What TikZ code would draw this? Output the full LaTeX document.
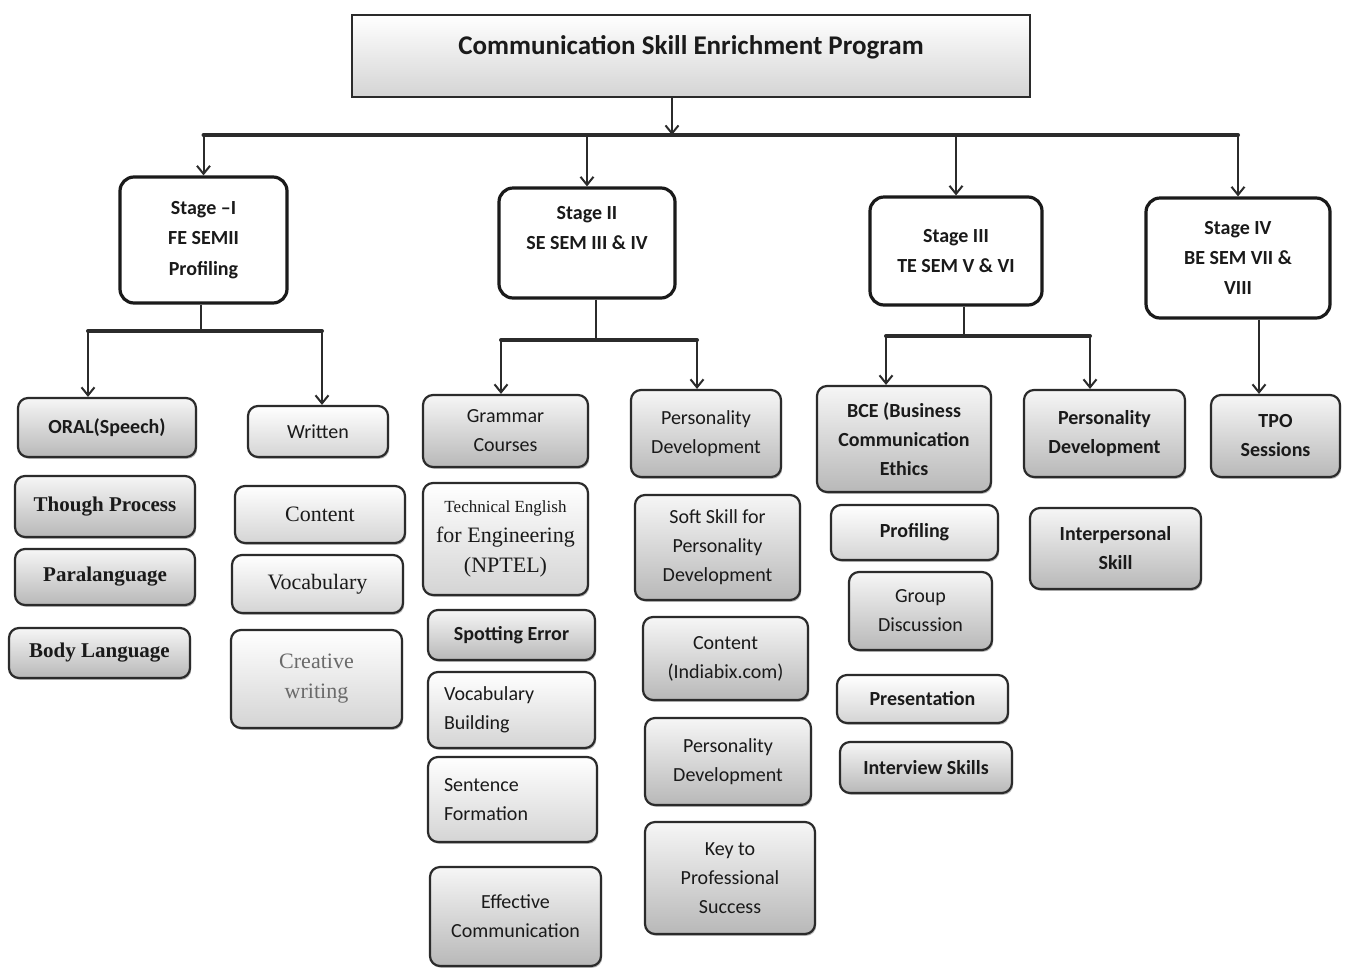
\documentclass[tikz,border=0pt]{standalone}
\usepackage{fontspec}
\setmainfont{Carlito}
\newfontfamily\tnr{Liberation Serif}
\usepackage{tikz}
\usetikzlibrary{calc,arrows.meta,shadows}
\definecolor{ink}{HTML}{1A1A1A}
\definecolor{edge}{HTML}{2B2B2B}
\definecolor{shadetop}{HTML}{F6F6F6}
\definecolor{shadebot}{HTML}{B8B8B8}
\definecolor{lightbot}{HTML}{D4D4D4}
\definecolor{faded}{HTML}{6A6A6A}
\tikzset{
  title/.style={draw=edge, line width=1.2pt, top color=white, bottom color=lightbot, text=ink,
    font=\fontsize{13.5}{16}\selectfont\bfseries, text height=10pt, text depth=12pt},
  stagebox/.style={draw=ink, line width=1.6pt, fill=white, rounded corners=7pt, text=ink,
    align=center, font=\fontsize{10}{15.2}\selectfont\bfseries},
  leaf/.style={draw=edge, line width=1.1pt, rounded corners=5pt, top color=shadetop, bottom color=shadebot,
    text=ink, align=center, inner sep=4pt, font=\fontsize{10}{14.5}\selectfont,
    drop shadow={shadow xshift=0.6pt, shadow yshift=-0.9pt, fill=black!55}},
  leafw/.style={leaf, top color=white, bottom color=lightbot},
  leftleaf/.style={leafw, align=left, inner xsep=8pt},
  bold/.style={font=\fontsize{10}{14.5}\selectfont\bfseries},
  serif/.style={font=\fontsize{11}{15}\selectfont\tnr},
  serifb/.style={font=\fontsize{10.5}{15}\selectfont\tnr\bfseries},
  sz/.style 2 args={minimum width=#1, minimum height=#2},
  arr/.style={draw=edge, line width=1pt, -{Straight Barb[length=4pt,width=6.5pt]}},
  busline/.style={draw=edge, line width=2pt, line cap=round},
  link/.style={draw=edge, line width=1pt},
}

\begin{document}
\begin{tikzpicture}[x=0.5pt, y=-0.5pt]
  \useasboundingbox (0,0) rectangle (1348,970);
  \node[title, sz={339pt}{41pt}] (prog) at (691,56) {Communication Skill Enrichment Program};

  \node[stagebox, sz={83.5pt}{63pt}] (s1) at (203.5,240) {Stage --I\\FE SEMII\\Profiling};
  \node[stagebox, sz={88pt}{55pt}] (s2) at (587,243) {Stage II\\SE SEM III \& IV\\\mbox{}};
  \node[stagebox, sz={86pt}{54pt}] (s3) at (956,251) {Stage III\\TE SEM V \& VI};
  \node[stagebox, sz={92pt}{60pt}] (s4) at (1238,258) {Stage IV\\BE SEM VII \&\\VIII};

  % stage I
  \node[leaf, bold, sz={89pt}{29.5pt}] (oral) at (107,427.5) {ORAL(Speech)};
  \node[leaf, serifb, sz={90pt}{30.5pt}] (though) at (105,506.5) {Though Process};
  \node[leaf, serifb, sz={90pt}{28pt}] (para) at (105,577) {Paralanguage};
  \node[leaf, serifb, sz={90.5pt}{25pt}] (body) at (99.5,653) {Body Language};
  \node[leafw, sz={70pt}{25.5pt}] (written) at (318,431.5) {Written};
  \node[leafw, serif, sz={85pt}{28.5pt}] (content) at (320,514.5) {Content};
  \node[leafw, serif, sz={85.5pt}{29pt}] (vocab) at (317.5,584) {Vocabulary};
  \node[leafw, serif, text=faded, sz={85.5pt}{49pt}] (creative) at (316.5,679) {Creative\\writing};

  % stage II
  \node[leaf, sz={82.5pt}{36pt}] (grammar) at (505.5,431) {Grammar\\Courses};
  \node[leafw, serif, sz={82.5pt}{56pt}] (nptel) at (505.5,539)
    {{\fontsize{8.5}{12}\selectfont Technical English}\\for Engineering\\(NPTEL)};
  \node[leaf, bold, sz={83.5pt}{25pt}] (spot) at (511.5,635) {Spotting Error};
  \node[leftleaf, text width=67.5pt, minimum height=38pt] (vocabb) at (511.5,710) {Vocabulary\\Building};
  \node[leftleaf, text width=68.5pt, minimum height=42.5pt] (sentence) at (512.5,799.5) {Sentence\\Formation};
  \node[leaf, sz={85.5pt}{49.5pt}] (effective) at (515.5,916.5) {Effective\\Communication};
  \node[leaf, sz={75pt}{43.5pt}] (persA) at (706,433.5) {Personality\\Development};
  \node[leaf, sz={82.5pt}{52.5pt}] (soft) at (717.5,547.5) {Soft Skill for\\Personality\\Development};
  \node[leaf, sz={82.5pt}{41.5pt}] (indiabix) at (725.5,658.5) {Content\\(Indiabix.com)};
  \node[leaf, sz={83pt}{43.5pt}] (persB) at (728,761.5) {Personality\\Development};
  \node[leaf, sz={85pt}{56pt}] (success) at (730,878) {Key to\\Professional\\Success};

  % stage III
  \node[leaf, bold, sz={87pt}{53pt}] (bce) at (904,439) {BCE (Business\\Communication\\Ethics};
  \node[leafw, bold, sz={83.5pt}{27.5pt}] (profiling) at (914.5,532.5) {Profiling};
  \node[leaf, sz={71.5pt}{39pt}] (group) at (920.5,611) {Group\\Discussion};
  \node[leafw, bold, sz={85.5pt}{24pt}] (present) at (922.5,699) {Presentation};
  \node[leaf, bold, sz={86pt}{25.5pt}] (interview) at (926,767.5) {Interview Skills};
  \node[leaf, bold, sz={80.5pt}{43.5pt}] (persC) at (1104.5,433.5) {Personality\\Development};
  \node[leaf, bold, sz={85.5pt}{40.5pt}] (interp) at (1115.5,548.5) {Interpersonal\\Skill};

  % stage IV
  \node[leaf, bold, sz={64.5pt}{41pt}] (tpo) at (1275.5,436) {TPO\\Sessions};

  \coordinate (top) at (672,135);
  \coordinate (j1) at (201,331);
  \coordinate (j1a) at (88,331);
  \coordinate (j1b) at (322,331);
  \coordinate (j2) at (596,340);
  \coordinate (j2a) at (501,340);
  \coordinate (j2b) at (697,340);
  \coordinate (j3) at (964,336);
  \coordinate (j3a) at (886,336);
  \coordinate (j3b) at (1090,336);
  \coordinate (j4) at (1259,0);

  \draw[arr] (prog.south -| top) -- (top);
  \draw[busline] (s1.north |- top) -- (s4.north |- top);
  \foreach \s in {s1,s2,s3,s4}
    \draw[arr] (\s.north |- top) -- (\s.north);

  \draw[link] (s1.south -| j1) -- (j1);
  \draw[busline] (j1a) -- (j1b);
  \draw[arr] (j1a) -- (j1a |- oral.north);
  \draw[arr] (j1b) -- (j1b |- written.north);

  \draw[link] (s2.south -| j2) -- (j2);
  \draw[busline] (j2a) -- (j2b);
  \draw[arr] (j2a) -- (j2a |- grammar.north);
  \draw[arr] (j2b) -- (j2b |- persA.north);

  \draw[link] (s3.south -| j3) -- (j3);
  \draw[busline] (j3a) -- (j3b);
  \draw[arr] (j3a) -- (j3a |- bce.north);
  \draw[arr] (j3b) -- (j3b |- persC.north);

  \draw[arr] (s4.south -| j4) -- (tpo.north -| j4);
\end{tikzpicture}
\end{document}
